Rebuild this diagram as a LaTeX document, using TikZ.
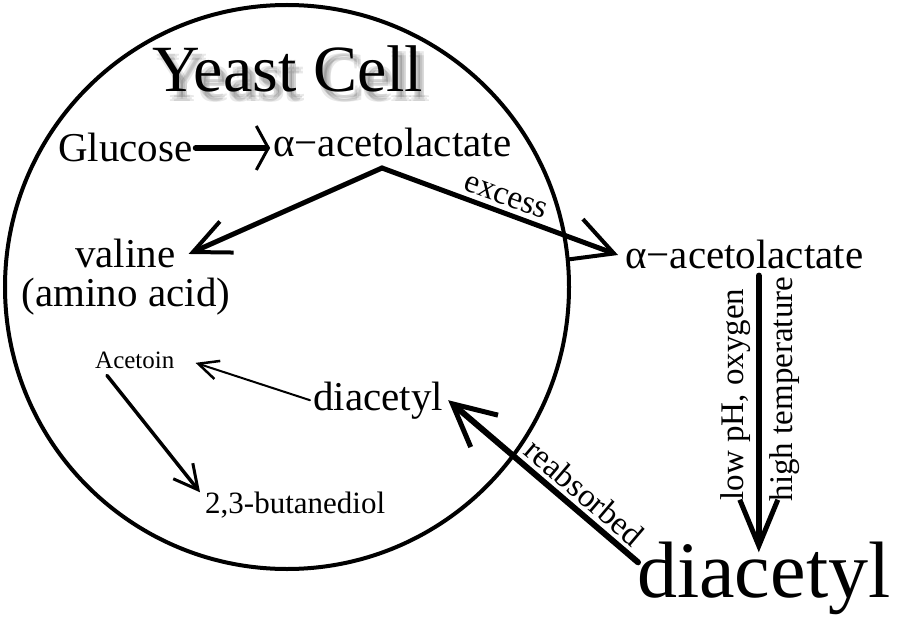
\documentclass[tikz,border=0pt]{standalone}
\usepackage{fontspec}
\setmainfont{Liberation Serif}
\usetikzlibrary{arrows.meta,calc}
\newcommand{\fs}[1]{\fontsize{#1}{#1}\selectfont}

\begin{document}
\begin{tikzpicture}[x=1pt,y=-1pt,
    every node/.style={inner sep=0pt},
    barb/.style n args={4}{line width=#1, line cap=round,
      -{Straight Barb[length=#2,width=#3,line width=#4]}},
    lbl/.style={font=\fs{33}}]
    \useasboundingbox (0,0) rectangle (900,623);
    \draw[line width=4pt] (287,287) circle (282pt);
    % title with a soft shadow
    \foreach \dx/\dy in {4/6,8/6,4/10,8/10,6/8}
      \node[font=\fs{66}, text opacity=0.09, anchor=base] at (288+\dx,92+\dy) {Yeast Cell};
    \node (cell) [font=\fs{66}, anchor=base] at (288,92) {Yeast Cell};
    \node (glucose) [font=\fs{41}, anchor=base west] at (58,162) {Glucose};
    \node (acetoA) [font=\fs{41}, anchor=base west] at (273,157) {α−acetolactate};
    \node (valine) [font=\fs{41}, anchor=base west] at (75,267) {valine};
    \node (amino) [font=\fs{41}, anchor=base] at (126,306) {(amino acid)};
    \node (acetoin) [font=\fs{25}, anchor=base west] at (95,368) {Acetoin};
    \node (diacIn) [font=\fs{41}, anchor=base west] at (313,410) {diacetyl};
    \node (butan) [font=\fs{31}, anchor=base west] at (205,513) {2,3-butanediol};
    \node (acetoB) [font=\fs{41}, anchor=base west] at (625,268) {α−acetolactate};
    \node (diacOut) [font=\fs{80}, anchor=base west] at (637,597) {diacetyl};
    \coordinate (fork) at (382,168);
    % arrows
    \draw[barb={6pt}{12pt}{44pt}{3pt}] ($(glucose.east)+(3,0)$) -- ($(glucose.east -| acetoA.west)+(-3,0)$);
    \draw[barb={5pt}{37pt}{34pt}{4pt}] (fork) -- ($(valine.east)+(13,1)$);
    \draw[barb={5pt}{41pt}{43pt}{4pt}] (fork) -- node[lbl, sloped, above, inner sep=5pt] {excess} ($(acetoB.west)+(-7,1)$);
    \draw[barb={6pt}{46pt}{38pt}{5pt}] ($(acetoB.south -| diacOut.north)+(-5,7)$)
      -- node[lbl, pos=0.43, rotate=90, anchor=south, inner sep=5pt] {low pH, oxygen}
         node[lbl, pos=0.41, rotate=90, anchor=north, inner sep=8pt] {high temperature}
         ($(diacOut.north)+(-5,11)$);
    \draw[barb={6pt}{42pt}{42pt}{5pt}] ($(diacOut.north west)+(1,21)$)
      -- node[lbl, sloped, pos=0.345, above, inner sep=4pt] {reabsorbed} ($(diacIn.east)+(5,0)$);
    \draw[barb={2pt}{20pt}{19pt}{2.5pt}] ($(diacIn.west)+(-3,0)$) -- ($(acetoin.east)+(21,3)$);
    \draw[barb={3.5pt}{24pt}{25pt}{3pt}] ($(acetoin.south west)+(12,7)$) -- ($(butan.north west)+(-5,1)$);
\end{tikzpicture}
\end{document}
